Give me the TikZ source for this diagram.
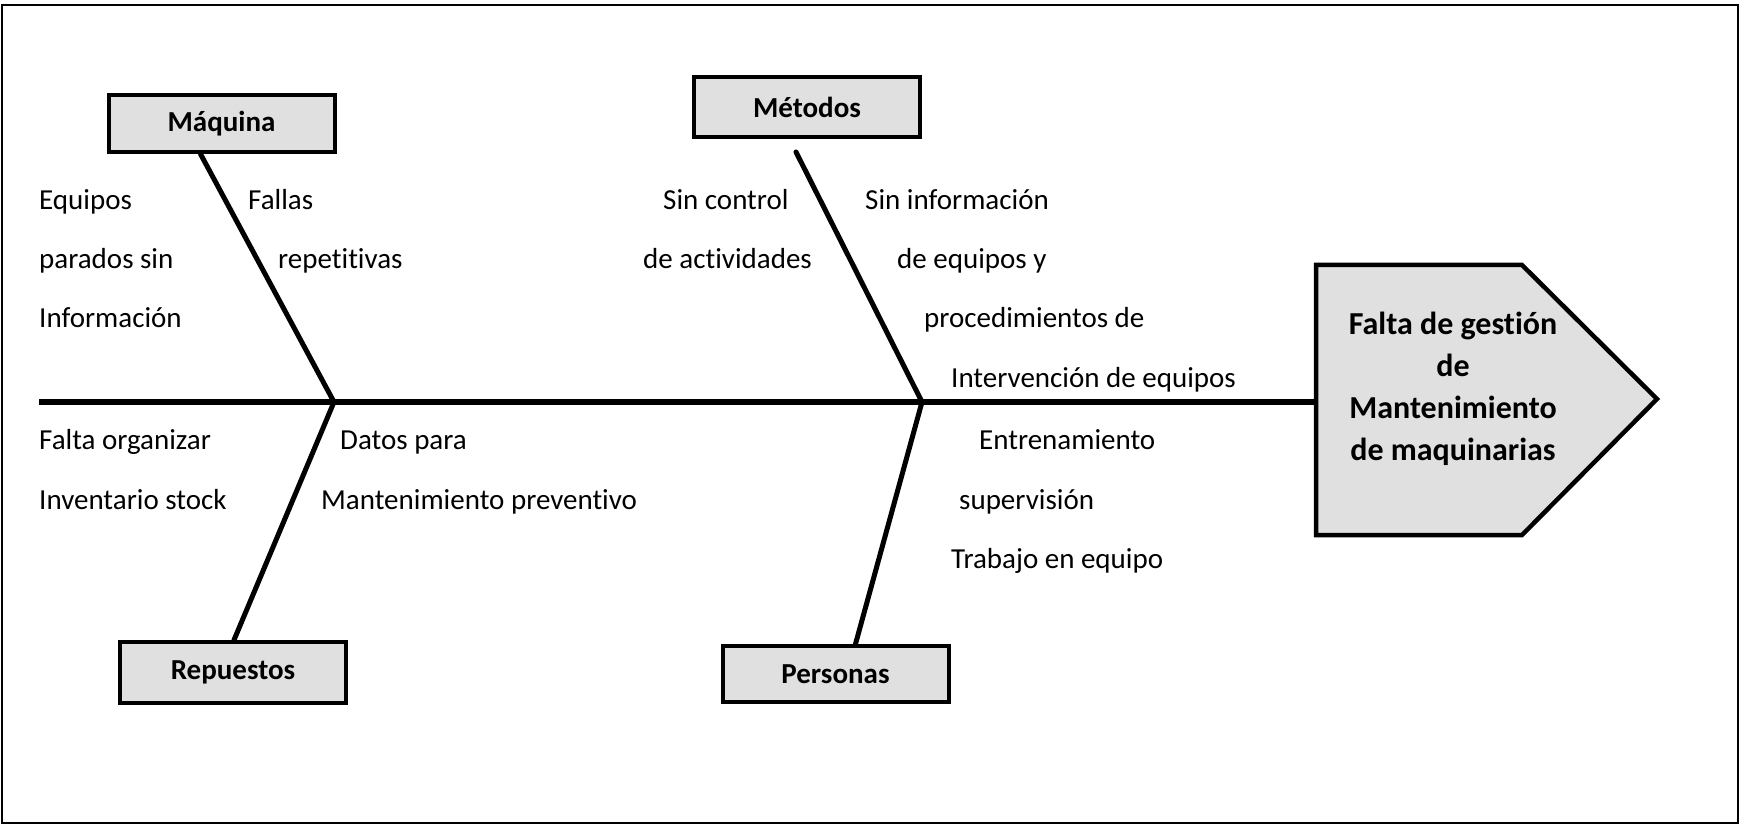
\documentclass[tikz,border=0pt]{standalone}
\usepackage{fontspec}
\setmainfont[Ligatures=NoCommon,RawFeature={-liga;-clig;-dlig}]{Carlito}
\usetikzlibrary{calc}
\begin{document}
\begin{tikzpicture}[x=1pt,y=-1pt,
  lbl/.style={inner sep=0pt,anchor=base west,font=\fontsize{29}{35}\selectfont},
  catbox/.style={draw,line width=4pt,fill=black!12,minimum width=226pt,inner sep=0pt,font=\bfseries\fontsize{29}{35}\selectfont},
  bone/.style={line width=5pt,line cap=round},
  spine/.style={line width=6pt},
  headtext/.style={align=center,inner sep=0pt,font=\bfseries\fontsize{32}{42}\selectfont}]
\useasboundingbox (0,0) rectangle (1741,826);
\draw[line width=1.5pt] (2,5) rectangle (1738,823);
% head
\draw[line width=4.5pt,fill=black!12,line join=miter] (1316,265) -- (1522,265) -- (1657,399) -- (1522,535) -- (1316,535) -- cycle;
\coordinate (head) at (1316,402);
\node[headtext] (headlbl) at (1453,389) {Falta de gestión\\de\\Mantenimiento\\de maquinarias};
% spine
\coordinate (spL) at (39,402);
\coordinate (j1) at (334,402);
\coordinate (j2) at (922,402);
\draw[spine] (spL) -- (head);
% category boxes
\node[catbox,minimum height=57pt] (maq) at (221.5,123.5) {Máquina};
\node[catbox,minimum height=60pt] (met) at (807,107) {Métodos};
\node[catbox,minimum height=61pt] (rep) at (233,672.5) {Repuestos};
\node[catbox,minimum height=56pt] (per) at (835.5,674) {Personas};
% bones
\draw[bone] ($(maq.south)+(-21,0)$) -- (j1);
\draw[bone] ($(met.south)+(-11,13)$) -- (j2);
\draw[bone] (j1) -- ($(rep.north)+(1,0)$);
\draw[bone] (j2) -- ($(per.north)+(20,0)$);
% causes
\node[lbl] (c1) at (39,210) {Equipos};
\node[lbl] (c2) at (39,269) {parados sin};
\node[lbl] (c3) at (39,328) {Información};
\node[lbl] (c4) at (248,210) {Fallas};
\node[lbl] (c5) at (278,269) {repetitivas};
\node[lbl] (c6) at (663,210) {Sin control};
\node[lbl] (c7) at (643,269) {de actividades};
\node[lbl] (c8) at (865,210) {Sin información};
\node[lbl] (c9) at (897,269) {de equipos y};
\node[lbl] (c10) at (924,328) {procedimientos de};
\node[lbl] (c11) at (951,388) {Intervención de equipos};
\node[lbl] (c12) at (39,449) {Falta organizar};
\node[lbl] (c13) at (39,509) {Inventario stock};
\node[lbl] (c14) at (340,449) {Datos para};
\node[lbl] (c15) at (321,509) {Mantenimiento preventivo};
\node[lbl] (c16) at (979,449) {Entrenamiento};
\node[lbl] (c17) at (959,509) {supervisión};
\node[lbl] (c18) at (951,568) {Trabajo en equipo};
\end{tikzpicture}
\end{document}
